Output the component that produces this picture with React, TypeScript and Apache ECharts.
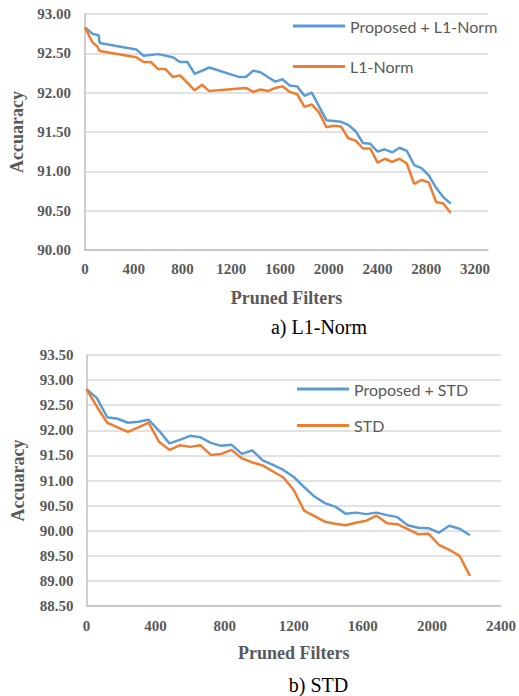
import React, { useEffect, useRef } from "react";
import * as echarts from "echarts";

// ---- Chart a) L1-Norm ----
const propL1X = [0, 60, 112, 120, 420, 480, 600, 720, 780, 840, 900, 1020, 1260, 1320, 1380, 1440, 1500, 1560, 1620, 1680, 1740, 1800, 1860, 1980, 2040, 2100, 2160, 2220, 2280, 2340, 2400, 2460, 2520, 2580, 2640, 2700, 2760, 2820, 2880, 2940, 3000];
const propL1Y = [92.83, 92.75, 92.73, 92.63, 92.55, 92.47, 92.49, 92.45, 92.39, 92.39, 92.24, 92.32, 92.20, 92.20, 92.28, 92.26, 92.20, 92.14, 92.17, 92.09, 92.08, 91.96, 92.0, 91.65, 91.64, 91.63, 91.59, 91.51, 91.36, 91.35, 91.25, 91.28, 91.24, 91.30, 91.26, 91.08, 91.04, 90.95, 90.79, 90.67, 90.59];
const l1X = [0, 60, 100, 120, 420, 480, 540, 600, 660, 720, 780, 900, 960, 1020, 1320, 1380, 1440, 1500, 1560, 1620, 1680, 1740, 1800, 1860, 1920, 1980, 2040, 2100, 2160, 2220, 2280, 2340, 2400, 2460, 2520, 2580, 2640, 2700, 2760, 2820, 2880, 2940, 3000];
const l1Y = [92.83, 92.64, 92.59, 92.53, 92.45, 92.39, 92.39, 92.30, 92.30, 92.20, 92.22, 92.03, 92.10, 92.02, 92.06, 92.01, 92.04, 92.02, 92.06, 92.08, 92.01, 91.98, 91.82, 91.85, 91.75, 91.56, 91.58, 91.57, 91.42, 91.39, 91.29, 91.29, 91.11, 91.16, 91.12, 91.16, 91.10, 90.84, 90.89, 90.86, 90.61, 90.59, 90.47];

// ---- Chart b) STD ----
const stdX = [0, 60, 120, 180, 240, 300, 360, 420, 480, 540, 600, 660, 720, 780, 840, 900, 960, 1020, 1080, 1140, 1200, 1260, 1320, 1380, 1440, 1500, 1560, 1620, 1680, 1740, 1800, 1860, 1920, 1980, 2040, 2100, 2160, 2220];
const propStdY = [92.82, 92.64, 92.26, 92.23, 92.15, 92.17, 92.21, 91.99, 91.74, 91.81, 91.89, 91.86, 91.75, 91.69, 91.71, 91.53, 91.60, 91.40, 91.31, 91.21, 91.07, 90.87, 90.68, 90.55, 90.48, 90.34, 90.36, 90.33, 90.36, 90.31, 90.27, 90.11, 90.06, 90.05, 89.96, 90.10, 90.04, 89.91];
const stdY = [92.82, 92.47, 92.15, 92.06, 91.97, 92.06, 92.15, 91.77, 91.61, 91.70, 91.67, 91.70, 91.51, 91.53, 91.61, 91.44, 91.36, 91.30, 91.18, 91.06, 90.81, 90.40, 90.29, 90.18, 90.14, 90.11, 90.16, 90.20, 90.30, 90.15, 90.13, 90.03, 89.93, 89.94, 89.72, 89.62, 89.50, 89.10];

const topYTicks = { min: 90, max: 93, step: 0.5 };
const botYTicks = { min: 88.5, max: 93.5, step: 0.5 };
const topXTicks = { min: 0, max: 3306, step: 400 };
const botXTicks = { min: 0, max: 2400, step: 400 };

const names = {
  propL1: "Proposed + L1-Norm",
  l1: "L1-Norm",
  propStd: "Proposed + STD",
  std: "STD",
};

const BLUE = "#5b9bd5";
const ORANGE = "#ed7d31";
const GRAY = "#595959";
const SERIF = "'Liberation Serif', 'Times New Roman', serif";

const zip = (xs: number[], ys: number[]) => xs.map((x, i) => [x, ys[i]]);

export default function App() {
  const ref = useRef<HTMLDivElement>(null);
  useEffect(() => {
    if (!ref.current) return;
    const chart = echarts.init(ref.current, undefined, { renderer: "svg" });
    const axisLabelY = {
      color: GRAY,
      fontFamily: SERIF,
      fontWeight: "bold" as const,
      fontSize: 15,
      formatter: (v: number) => v.toFixed(2),
    };
    const axisLabelX = {
      color: GRAY,
      fontFamily: SERIF,
      fontWeight: "bold" as const,
      fontSize: 15,
      showMaxLabel: false,
      formatter: (v: number) => String(v),
    };
    const nameStyle = {
      color: GRAY,
      fontFamily: SERIF,
      fontWeight: "bold" as const,
      fontSize: 18,
    };
    const axisLine = { show: true, lineStyle: { color: "#c0c0c0", width: 1.5 } };
    const splitLine = { show: true, lineStyle: { color: "#d9d9d9", width: 1.5 } };
    const lineSeries = (name: string, data: number[][], color: string, idx: number) => ({
      type: "line",
      name,
      data,
      xAxisIndex: idx,
      yAxisIndex: idx,
      showSymbol: false,
      symbol: "none",
      lineStyle: { color, width: 2.5 },
      itemStyle: { color },
    });
    const legendText = { color: GRAY, fontFamily: "Lato", fontSize: 16, lineHeight: 16 };
    chart.setOption({
      animation: false,
      backgroundColor: "#ffffff",
      grid: [
        { left: 84, top: 14, width: 404, height: 236 },
        { left: 86.5, top: 355, width: 417, height: 251 },
      ],
      legend: [
        {
          data: [names.propL1, names.l1],
          orient: "vertical",
          left: 293,
          top: 18,
          padding: 0,
          itemWidth: 52,
          itemHeight: 3,
          itemGap: 24.5,
          icon: "rect",
          textStyle: legendText,
        },
        {
          data: [names.propStd, names.std],
          orient: "vertical",
          left: 297,
          top: 381,
          padding: 0,
          itemWidth: 52,
          itemHeight: 3,
          itemGap: 20.5,
          icon: "rect",
          textStyle: legendText,
        },
      ],
      xAxis: [
        {
          type: "value",
          gridIndex: 0,
          min: topXTicks.min,
          max: topXTicks.max,
          interval: topXTicks.step,
          name: "Pruned Filters",
          nameLocation: "middle",
          nameGap: 39,
          nameTextStyle: nameStyle,
          axisLine,
          axisTick: { show: false },
          splitLine: { show: false },
          axisLabel: { ...axisLabelX, margin: 11 },
        },
        {
          type: "value",
          gridIndex: 1,
          min: botXTicks.min,
          max: botXTicks.max,
          interval: botXTicks.step,
          name: "Pruned Filters",
          nameLocation: "middle",
          nameGap: 38,
          nameTextStyle: nameStyle,
          axisLine,
          axisTick: { show: false },
          splitLine: { show: false },
          axisLabel: { ...axisLabelX, showMaxLabel: true, margin: 12 },
        },
      ],
      yAxis: [
        {
          type: "value",
          gridIndex: 0,
          min: topYTicks.min,
          max: topYTicks.max,
          interval: topYTicks.step,
          name: "Accuaracy",
          nameLocation: "middle",
          nameGap: 59,
          nameTextStyle: nameStyle,
          axisLine,
          axisTick: { show: false },
          splitLine,
          axisLabel: { ...axisLabelY, margin: 14 },
        },
        {
          type: "value",
          gridIndex: 1,
          min: botYTicks.min,
          max: botYTicks.max,
          interval: botYTicks.step,
          name: "Accuaracy",
          nameLocation: "middle",
          nameGap: 60,
          nameTextStyle: nameStyle,
          axisLine,
          axisTick: { show: false },
          splitLine,
          axisLabel: { ...axisLabelY, margin: 13 },
        },
      ],
      series: [
        lineSeries(names.propL1, zip(propL1X, propL1Y), BLUE, 0),
        lineSeries(names.l1, zip(l1X, l1Y), ORANGE, 0),
        lineSeries(names.propStd, zip(stdX, propStdY), BLUE, 1),
        lineSeries(names.std, zip(stdX, stdY), ORANGE, 1),
      ],
      graphic: [
        {
          type: "text",
          x: 319,
          y: 327,
          style: {
            text: "a) L1-Norm",
            fill: "#000",
            font: `20px ${SERIF}`,
            textAlign: "center",
            textVerticalAlign: "middle",
          },
        },
        {
          type: "text",
          x: 318.5,
          y: 685,
          style: {
            text: "b) STD",
            fill: "#000",
            font: `20px ${SERIF}`,
            textAlign: "center",
            textVerticalAlign: "middle",
          },
        },
      ],
    });
    return () => chart.dispose();
  }, []);
  return (
    <div
      ref={ref}
      style={{ position: "absolute", left: 0, top: 0, width: 519, height: 696 }}
    />
  );
}
